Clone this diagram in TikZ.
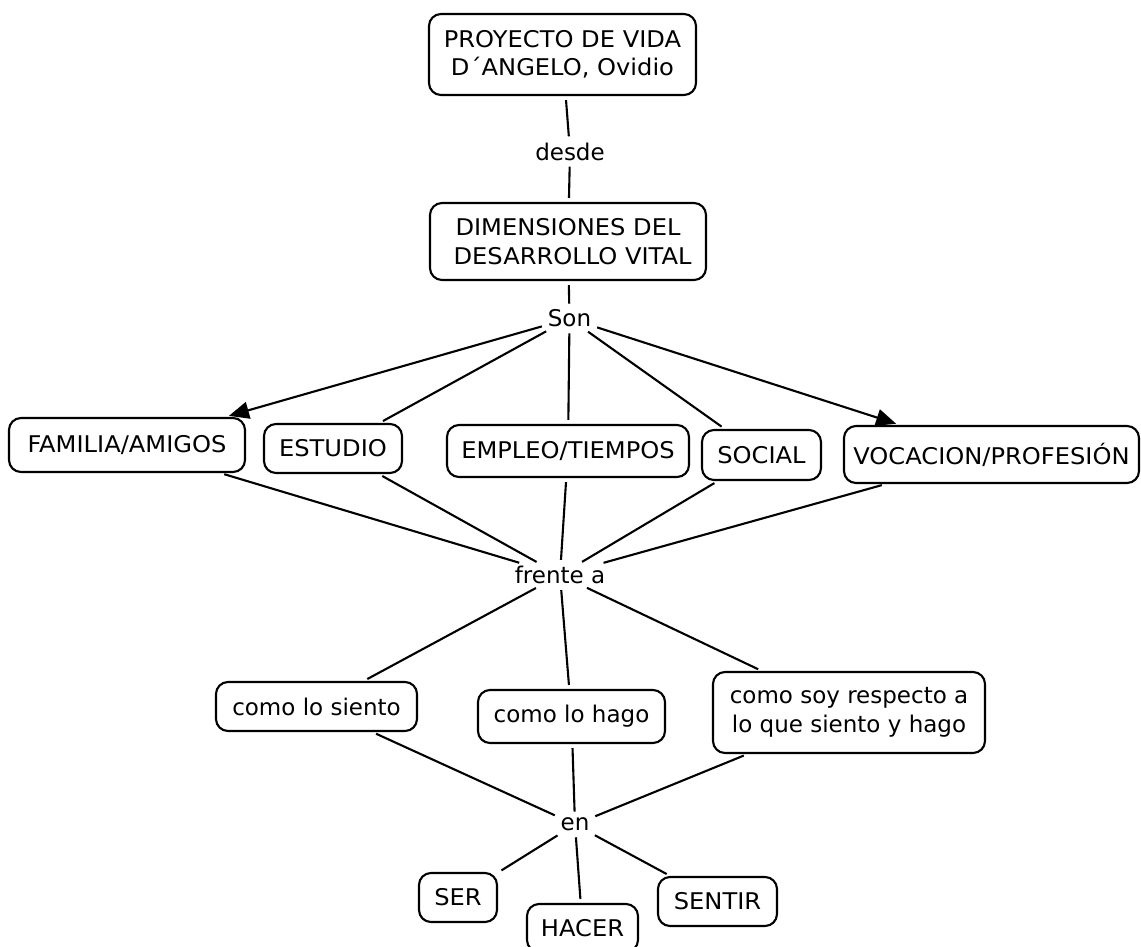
\documentclass[tikz,border=0pt]{standalone}
\usepackage{fontspec}
\setmainfont{DejaVu Sans}
\newfontfamily\capsfont{DejaVu Sans}[FakeStretch=1.05]
\usetikzlibrary{arrows.meta}
\begin{document}
\begin{tikzpicture}[x=1pt,y=-1pt,
  box/.style={draw, line width=2.1pt, rounded corners=12pt, align=center, inner sep=0pt, font=\fontsize{23pt}{28.5pt}\selectfont},
  capbox/.style={box, font=\capsfont\fontsize{23pt}{28.5pt}\selectfont},
  lbl/.style={inner sep=2pt, font=\fontsize{23pt}{28.5pt}\selectfont},
  conn/.style={line width=2.1pt, shorten <=4pt, shorten >=4pt},
  arr/.style={conn, -{Triangle[length=20pt,width=17pt]}}]
\useasboundingbox (0,0) rectangle (1141,946);
% nodes
\node[capbox, minimum width=267pt, minimum height=81pt] (proy) at (562.5,54.5) {PROYECTO DE VIDA\\D´ANGELO, Ovidio};
\node[lbl] (desde) at (570,151.5) {desde};
\node[capbox, minimum width=276pt, minimum height=77pt] (dim) at (568,241.5) {DIMENSIONES DEL\\\hspace*{0.4em}DESARROLLO VITAL};
\node[lbl] (son) at (569.5,318.5) {Son};
\node[capbox, minimum width=236pt, minimum height=54pt] (fam) at (127,445) {FAMILIA/AMIGOS};
\node[capbox, minimum width=138pt, minimum height=49pt] (est) at (333,448.5) {ESTUDIO};
\node[capbox, minimum width=242pt, minimum height=52pt] (emp) at (568,451) {EMPLEO/TIEMPOS};
\node[capbox, minimum width=119pt, minimum height=50pt] (soc) at (761.5,455) {SOCIAL};
\node[capbox, minimum width=295pt, minimum height=57pt] (voc) at (991.5,454.5) {VOCACION/PROFESIÓN};
\node[lbl] (fre) at (560,575) {frente a};
\node[box, minimum width=201pt, minimum height=49pt] (sie) at (316.5,706.5) {como lo siento};
\node[box, minimum width=187pt, minimum height=53pt] (hag) at (571.5,716.5) {como lo hago};
\node[box, minimum width=272pt, minimum height=81pt] (soy) at (849,712.5) {como soy respecto a\\lo que siento y hago};
\node[lbl] (en) at (575,824.5) {en};
\node[capbox, minimum width=78pt, minimum height=49pt] (ser) at (458,897.5) {SER};
\node[capbox, minimum width=111pt, minimum height=48pt] (hac) at (582.5,928) {HACER};
\node[capbox, minimum width=119pt, minimum height=49pt] (sen) at (717.5,901.5) {SENTIR};
% connectors
\draw[conn] (proy) -- (desde);
\draw[conn] (desde) -- (dim);
\draw[conn] (dim) -- (son);
\draw[arr] (son) -- (fam);
\draw[conn] (son) -- (est);
\draw[conn] (son) -- (emp);
\draw[conn] (son) -- (soc);
\draw[arr] (son) -- (voc);
\draw[conn] (fam) -- (fre);
\draw[conn] (est) -- (fre);
\draw[conn] (emp) -- (fre);
\draw[conn] (soc) -- (fre);
\draw[conn] (voc) -- (fre);
\draw[conn] (fre) -- (sie);
\draw[conn] (fre) -- (hag);
\draw[conn] (fre) -- (soy);
\draw[conn] (sie) -- (en);
\draw[conn] (hag) -- (en);
\draw[conn] (soy) -- (en);
\draw[conn] (en) -- (ser);
\draw[conn] (en) -- (hac);
\draw[conn] (en) -- (sen);
\end{tikzpicture}
\end{document}
